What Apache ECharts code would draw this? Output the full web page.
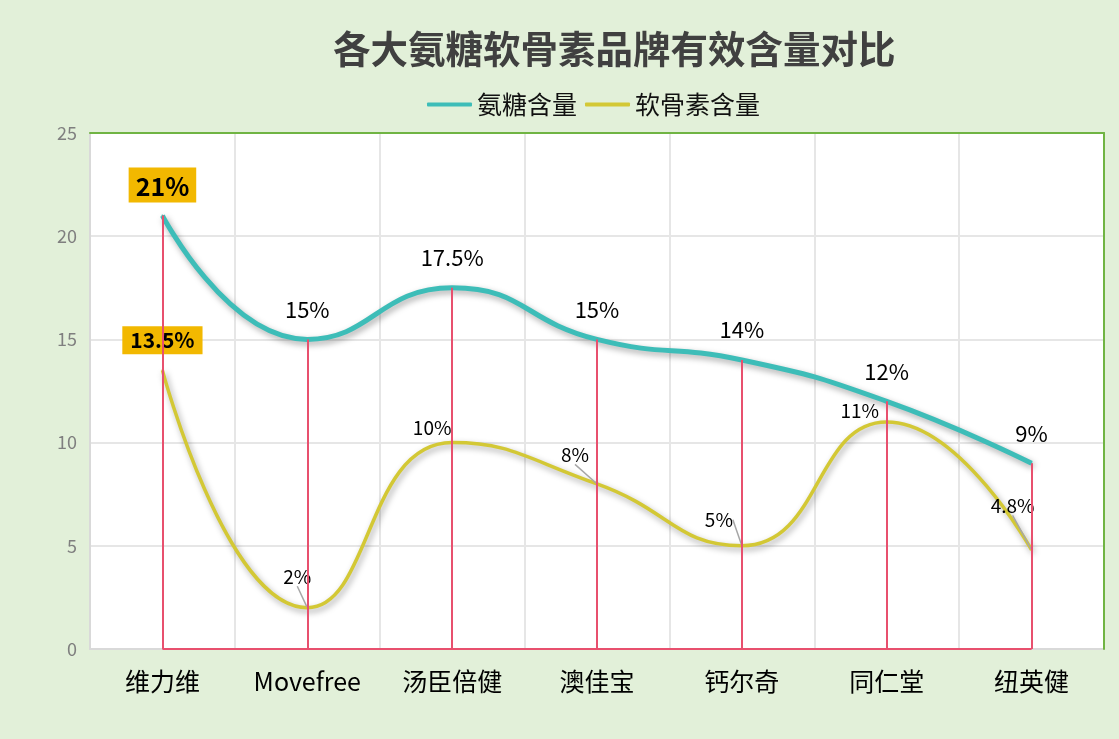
<!DOCTYPE html>
<html>
<head>
<meta charset="utf-8">
<title>各大氨糖软骨素品牌有效含量对比</title>
<script src="https://cdn.jsdelivr.net/npm/echarts@6/dist/echarts.min.js"></script>
<style>
  html, body { margin: 0; padding: 0; background: #E2F0D9; }
  #chart { width: 1119px; height: 739px; }
</style>
</head>
<body>
<div id="chart"></div>
<script>
const brands = ['维力维', 'Movefree', '汤臣倍健', '澳佳宝', '钙尔奇', '同仁堂', '纽英健']
const glucosamine = [21, 15, 17.5, 15, 14, 12, 9]
const chondroitin = [13.5, 2, 10, 8, 5, 11, 4.8]
const yTicks = [0, 5, 10, 15, 20, 25]

// label nudges for the chondroitin series (px, relative to the point)
const chondroShift = [[0, -30], [-10, -31], [-20, -15], [-22, -29], [-23, -26], [-27, -11], [-19, -44]]
const noLeader = [0, 2, 5]

const FONT = "'Noto Sans CJK SC', 'Noto Sans', sans-serif"
const TEAL = '#3DBDB8'
const YELLOW = '#D3C835'
const DROP = '#E8506E'
const BADGE = '#F2B800'
const FRAME = '#70B443'

const pct = p => p.value + '%'

const glucoData = glucosamine.map((v, i) => i === 0
  ? { value: v, label: { fontSize: 25, fontWeight: 'bold', backgroundColor: BADGE, padding: [6, 7, 4, 7], distance: 12 } }
  : v)

const chondroData = chondroitin.map((v, i) => {
  const item = { value: v }
  if (i === 0) item.label = { fontSize: 21, fontWeight: 'bold', backgroundColor: BADGE, padding: [4, 8, 3, 8] }
  if (noLeader.includes(i)) item.labelLine = { show: false }
  return item
})

const dropLines = glucosamine.map((v, i) => [
  { coord: [brands[i], v] },
  { coord: [brands[i], 0] }
])
dropLines.push([{ coord: [brands[0], 0] }, { coord: [brands[brands.length - 1], 0] }])

const chart = echarts.init(document.getElementById('chart'))

// plain axes on top / right only draw the green frame
const frameAxis = {
  axisLine: { show: true, onZero: false, lineStyle: { color: FRAME, width: 2 } },
  axisTick: { show: false },
  axisLabel: { show: false },
  splitLine: { show: false },
  z: 5
}

chart.setOption({
  backgroundColor: '#E2F0D9',
  textStyle: { fontFamily: FONT },
  animation: false,
  title: {
    text: '各大氨糖软骨素品牌有效含量对比',
    left: 328,
    top: 25,
    textStyle: { fontSize: 37.5, fontWeight: 'bold', color: '#404040', fontFamily: FONT }
  },
  legend: {
    left: 422,
    top: 87,
    itemWidth: 45,
    itemHeight: 4,
    itemGap: 8,
    icon: 'roundRect',
    textStyle: { fontSize: 25, color: '#111', fontFamily: FONT },
    data: ['氨糖含量', '软骨素含量']
  },
  grid: {
    left: 90,
    right: 15,
    top: 133,
    bottom: 90,
    show: true,
    backgroundColor: '#fff',
    borderWidth: 0
  },
  xAxis: [
    {
      type: 'category',
      data: brands,
      boundaryGap: true,
      axisLine: { lineStyle: { color: '#D9D9D9', width: 2 } },
      axisTick: { show: false },
      axisLabel: { fontSize: 25, color: '#000', margin: 20, fontFamily: FONT },
      splitLine: { show: true, lineStyle: { color: '#E6E6E6', width: 2 } }
    },
    Object.assign({ type: 'category', data: brands, position: 'top' }, frameAxis)
  ],
  yAxis: [
    {
      type: 'value',
      min: yTicks[0],
      max: yTicks[yTicks.length - 1],
      interval: yTicks[1] - yTicks[0],
      axisLine: { show: true, lineStyle: { color: '#D9D9D9', width: 2 } },
      axisTick: { show: false },
      axisLabel: { fontSize: 18, color: '#7F7F7F', margin: 13, fontFamily: FONT },
      splitLine: { lineStyle: { color: '#E6E6E6', width: 2 } }
    },
    Object.assign({
      type: 'value',
      position: 'right',
      min: yTicks[0],
      max: yTicks[yTicks.length - 1],
      interval: yTicks[1] - yTicks[0]
    }, frameAxis)
  ],
  series: [
    {
      name: '氨糖含量',
      type: 'line',
      data: glucoData,
      smooth: true,
      symbol: 'circle',
      symbolSize: 2,
      itemStyle: { color: TEAL },
      lineStyle: {
        color: TEAL,
        width: 5,
        shadowColor: 'rgba(0,0,0,0.35)',
        shadowBlur: 6,
        shadowOffsetX: 2,
        shadowOffsetY: 3
      },
      label: {
        show: true,
        position: 'top',
        distance: 18,
        fontSize: 22,
        color: '#000',
        formatter: pct
      },
      markLine: {
        silent: true,
        symbol: 'none',
        label: { show: false },
        lineStyle: { color: DROP, width: 2, type: 'solid' },
        data: dropLines
      },
      z: 3
    },
    {
      name: '软骨素含量',
      type: 'line',
      data: chondroData,
      smooth: true,
      symbol: 'circle',
      symbolSize: 2,
      itemStyle: { color: YELLOW },
      lineStyle: {
        color: YELLOW,
        width: 3.5,
        shadowColor: 'rgba(0,0,0,0.35)',
        shadowBlur: 6,
        shadowOffsetX: 2,
        shadowOffsetY: 3
      },
      label: {
        show: true,
        position: 'inside',
        fontSize: 19,
        color: '#000',
        formatter: pct
      },
      labelLine: {
        show: true,
        lineStyle: { color: '#A6A6A6', width: 1.5 }
      },
      labelLayout: p => ({
        dx: chondroShift[p.dataIndex][0],
        dy: chondroShift[p.dataIndex][1]
      }),
      z: 2
    }
  ]
})
</script>
</body>
</html>
